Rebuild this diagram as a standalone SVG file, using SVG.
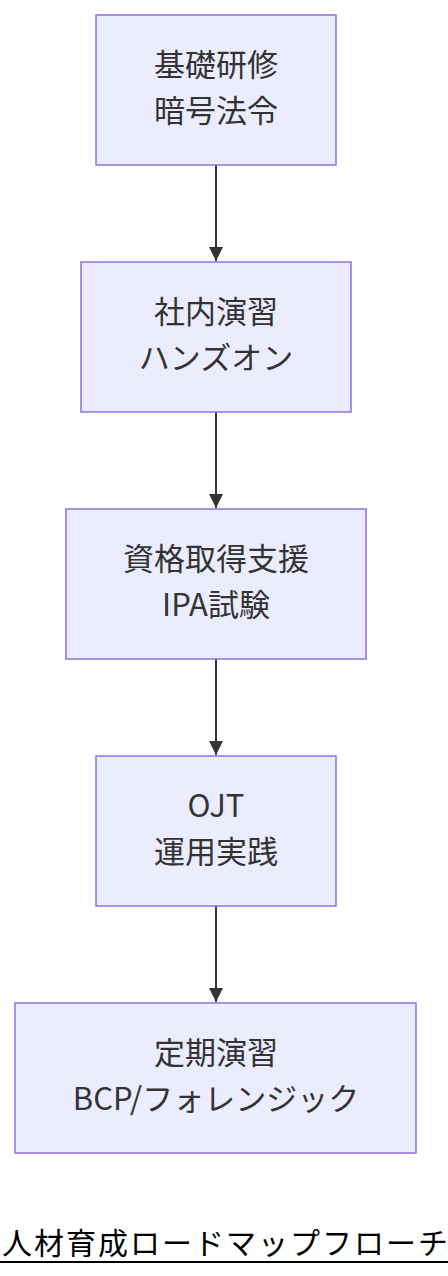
<svg xmlns="http://www.w3.org/2000/svg" width="448" height="1276" viewBox="0 0 448 1276">
<style>
.node rect{fill:#ECECFF;stroke:#9370DB;stroke-width:1.5}
.node text{font-family:"Noto Sans CJK JP","Noto Sans",sans-serif;font-size:31px;fill:#333;text-anchor:middle}
.edge{stroke:#333;stroke-width:2;fill:none}
.title{font-family:"Noto Sans CJK JP","Noto Sans",sans-serif;font-size:30px;fill:#000;letter-spacing:2px}
</style>
<defs>
<marker id="arrow" viewBox="0 0 10 10" refX="10" refY="5" markerUnits="userSpaceOnUse" markerWidth="16" markerHeight="14" orient="auto">
<path d="M0,0 L10,5 L0,10 z" fill="#333"/>
</marker>
</defs>
<g id="connectors">
<line class="edge" x1="216" y1="165" x2="216" y2="261" marker-end="url(#arrow)"/>
<line class="edge" x1="216" y1="412" x2="216" y2="508" marker-end="url(#arrow)"/>
<line class="edge" x1="216" y1="659" x2="216" y2="755" marker-end="url(#arrow)"/>
<line class="edge" x1="216" y1="906" x2="216" y2="1002" marker-end="url(#arrow)"/>
</g>
<g id="n1" class="node">
<rect x="96" y="15" width="240" height="150"/>
<text x="216" y="76">基礎研修</text>
<text x="216" y="122">暗号法令</text>
</g>
<g id="n2" class="node">
<rect x="81" y="262" width="270" height="150"/>
<text x="216" y="323">社内演習</text>
<text x="216" y="369">ハンズオン</text>
</g>
<g id="n3" class="node">
<rect x="66" y="509" width="300" height="150"/>
<text x="216" y="570">資格取得支援</text>
<text x="216" y="616">IPA試験</text>
</g>
<g id="n4" class="node">
<rect x="96" y="756" width="240" height="150"/>
<text x="216" y="817">OJT</text>
<text x="216" y="863">運用実践</text>
</g>
<g id="n5" class="node">
<rect x="15" y="1003" width="401" height="150"/>
<text x="216" y="1064">定期演習</text>
<text x="216" y="1110">BCP/フォレンジック</text>
</g>
<g id="title">
<text class="title" x="2" y="1254">人材育成ロードマップフローチ</text>
<line x1="0" y1="1262" x2="448" y2="1262" stroke="#000" stroke-width="2"/>
</g>
</svg>
